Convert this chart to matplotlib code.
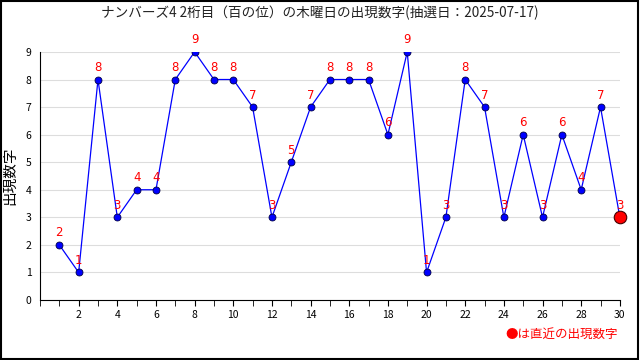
import matplotlib
matplotlib.use("Agg")
import matplotlib.pyplot as plt
from matplotlib.ticker import MultipleLocator

plt.rcParams["font.family"] = ["Noto Sans CJK JP", "DejaVu Sans"]

title = "ナンバーズ4 2桁目（百の位）の木曜日の出現数字(抽選日：2025-07-17)"
draws = list(range(1, 31))
digits = [2, 1, 8, 3, 4, 4, 8, 9, 8, 8, 7, 3, 5, 7, 8, 8, 8, 6, 9, 1,
          3, 8, 7, 3, 6, 3, 6, 4, 7, 3]

fig = plt.figure(figsize=(6.4, 3.6), dpi=100)
fig.patches.append(plt.Rectangle((0.001, 0.002), 0.996, 0.995, transform=fig.transFigure,
                                 fill=False, edgecolor="black", linewidth=1.5))
ax = fig.add_axes([0.0625, 0.1667, 0.906, 0.689])

ax.plot(draws, digits, color="blue", linewidth=0.9, zorder=2)
ax.plot(draws[:-1], digits[:-1], "o", color="blue", markeredgecolor="#000044",
        markeredgewidth=0.6, markersize=5, zorder=3)
ax.plot(draws[-1], digits[-1], "o", color="red", markeredgecolor="#440000",
        markeredgewidth=0.8, markersize=9, zorder=4, clip_on=False)

for x, y in zip(draws, digits):
    ax.annotate(str(y), (x, y), xytext=(0, 4), textcoords="offset points",
                ha="center", va="bottom", color="red", fontsize=8.5,
                family="DejaVu Sans")

ax.set_xlim(0, 30)
ax.set_ylim(0, 9)
ax.set_xticks(range(2, 31, 2))
ax.xaxis.set_minor_locator(MultipleLocator(1))
ax.yaxis.set_major_locator(MultipleLocator(1))
ax.tick_params(axis="x", which="both", direction="out", length=4, labelsize=7.5, pad=3)
ax.tick_params(axis="y", length=0, labelsize=7.5, pad=6)
ax.grid(axis="y", color="#dddddd", linewidth=0.8)
ax.set_axisbelow(True)
for s in ("top", "right"):
    ax.spines[s].set_visible(False)

ax.set_ylabel("出現数字", fontsize=10.5, labelpad=6)
fig.text(0.5, 0.965, title, ha="center", va="center", fontsize=9.8, color="#222222")
fig.text(0.965, 0.07, "●は直近の出現数字", ha="right", va="center", fontsize=9,
         color="red")

fig.savefig("out.png", dpi=100)
